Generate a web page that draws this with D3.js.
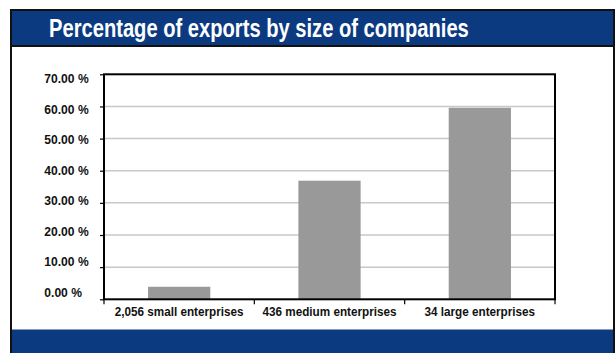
<!DOCTYPE html>
<html>
<head>
<meta charset="utf-8">
<script src="https://cdn.jsdelivr.net/npm/d3@7"></script>
<style>
  html, body { margin: 0; padding: 0; background: #fff; }
  svg { display: block; }
  .cond { font-family: "Liberation Sans", Arial, sans-serif; font-weight: bold; }
</style>
</head>
<body>
<svg id="chart" width="616" height="353"></svg>
<script>
const title = "Percentage of exports by size of companies";
const categories = ["2,056 small enterprises", "436 medium enterprises", "34 large enterprises"];
const values = [3.9, 36.9, 59.6];
const yTicks = [0, 10, 20, 30, 40, 50, 60, 70];
const yTickLabels = ["0.00 %", "10.00 %", "20.00 %", "30.00 %", "40.00 %", "50.00 %", "60.00 %", "70.00 %"];

const blue = "#0b3a80";
const svg = d3.select("#chart");

// condense a text selection horizontally (reference uses a condensed face)
function condense(sel, factor) {
  sel.each(function () {
    const w = this.getComputedTextLength();
    d3.select(this).attr("textLength", w * factor).attr("lengthAdjust", "spacingAndGlyphs");
  });
}

// Frame
svg.append("rect").attr("x", 0).attr("y", 0).attr("width", 616).attr("height", 353).attr("fill", "#fff");
svg.append("rect").attr("x", 11).attr("y", 10).attr("width", 603).attr("height", 350)
  .attr("fill", "#fff").attr("stroke", "#111").attr("stroke-width", 2);
svg.append("rect").attr("x", 12).attr("y", 11).attr("width", 601).attr("height", 34).attr("fill", blue);
svg.append("line").attr("x1", 11).attr("x2", 614).attr("y1", 46).attr("y2", 46).attr("stroke", "#111").attr("stroke-width", 2);
svg.append("rect").attr("x", 12).attr("y", 329.5).attr("width", 601).attr("height", 30).attr("fill", blue);

svg.append("text").attr("class", "cond")
  .attr("x", 49).attr("y", 36.7)
  .attr("fill", "#fff").attr("font-size", 25.5)
  .text(title)
  .call(condense, 0.79);

// Plot geometry
const px0 = 104, px1 = 555, py0 = 74.3, py1 = 299.3;

const x = d3.scaleBand().domain(categories).range([px0, px1]).paddingInner(0.586).paddingOuter(0.293);
const xEdges = d3.scaleLinear().domain([0, categories.length]).range([px0, px1]);
const y = d3.scaleLinear().domain([0, 70]).range([py1, py0]);
const yLab = d3.scaleLinear().domain([0, 70]).range([292.3, 78.3]);

// gridlines
svg.append("g").selectAll("line").data(yTicks.filter(d => d > 0 && d < 70)).join("line")
  .attr("x1", px0).attr("x2", px1)
  .attr("y1", d => y(d)).attr("y2", d => y(d))
  .attr("stroke", "#c8c8c8").attr("stroke-width", 1.5);

// bars
svg.append("g").selectAll("rect").data(values).join("rect")
  .attr("x", (d, i) => x(categories[i]))
  .attr("width", x.bandwidth())
  .attr("y", d => y(d))
  .attr("height", d => y(0) - y(d))
  .attr("fill", "#999999");

// plot border
svg.append("rect").attr("x", px0).attr("y", py0).attr("width", px1 - px0).attr("height", py1 - py0)
  .attr("fill", "none").attr("stroke", "#000").attr("stroke-width", 2);

// y axis ticks
const yAxis = d3.axisLeft(y).tickValues(yTicks).tickSize(4).tickFormat("");
const gy = svg.append("g").attr("transform", `translate(${px0},0)`).call(yAxis);
gy.select(".domain").remove();
gy.selectAll(".tick line").attr("stroke", "#000").attr("stroke-width", 1.2);

// y labels (left aligned)
svg.append("g").selectAll("text").data(yTicks).join("text")
  .attr("class", "cond")
  .attr("x", 44.3).attr("y", d => yLab(d)).attr("dy", "0.36em")
  .attr("text-anchor", "start").attr("font-size", 13).attr("fill", "#111")
  .text((d, i) => yTickLabels[i])
  .call(condense, 0.93);

// x axis ticks at band edges
svg.append("g").selectAll("line").data(d3.range(categories.length + 1)).join("line")
  .attr("x1", d => xEdges(d)).attr("x2", d => xEdges(d))
  .attr("y1", py1).attr("y2", py1 + 5)
  .attr("stroke", "#000").attr("stroke-width", 1.2);

// x labels
svg.append("g").selectAll("text").data(categories).join("text")
  .attr("class", "cond")
  .attr("x", d => x(d) + x.bandwidth() / 2).attr("y", 316)
  .attr("text-anchor", "middle").attr("font-size", 13).attr("fill", "#111")
  .text(d => d)
  .call(condense, 0.9);
</script>
</body>
</html>
